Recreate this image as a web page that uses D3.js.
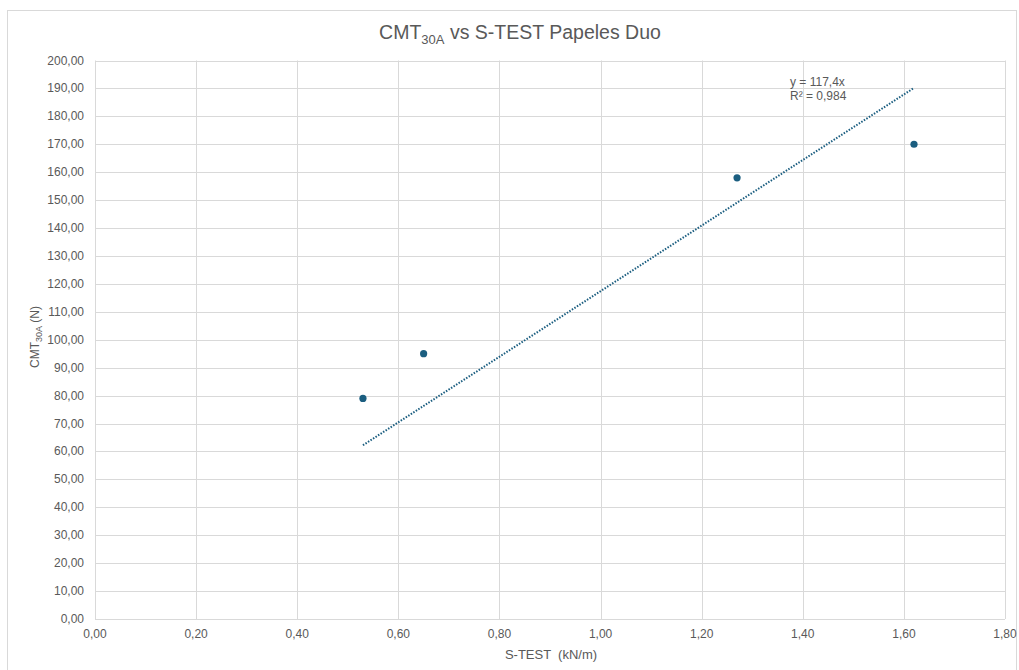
<!DOCTYPE html>
<html><head><meta charset="utf-8">
<script src="https://cdn.jsdelivr.net/npm/d3@7"></script>
<style>body{margin:0;background:#fff;}text{font-family:"Liberation Sans",Arial,sans-serif;}</style>
</head><body>
<svg id="c" width="1019" height="670"></svg>
<script>
const sTest = [0.53, 0.65, 1.27, 1.62];
const cmt = [79, 95, 158, 170];
const slope = 117.4;
const r2Label = "R² = 0,984";
const eqLabel = "y = 117,4x";
const xTicks = [0,0.2,0.4,0.6,0.8,1.0,1.2,1.4,1.6,1.8];
const yTicks = d3.range(0, 201, 10);

const svg = d3.select("#c");
const m = {l:95, r:1005, t:60.5, b:619};
const x = d3.scaleLinear().domain([0,1.8]).range([m.l, m.r]);
const y = d3.scaleLinear().domain([0,200]).range([m.b, m.t]);
const fmt = v => d3.format(".2f")(v).replace(".", ",");
const grid = "#d9d9d9", txt = "#595959", col = "#1b5e80";

svg.append("rect").attr("x",7.5).attr("y",10.5).attr("width",1009).attr("height",670).attr("fill","none").attr("stroke","#d9d9d9");

const g = svg.append("g");
g.selectAll(".gy").data(yTicks).join("line").attr("x1",m.l).attr("x2",m.r)
 .attr("y1",d=>Math.round(y(d))+0.5).attr("y2",d=>Math.round(y(d))+0.5).attr("stroke",grid).attr("stroke-width",1);
g.selectAll(".gx").data(xTicks).join("line").attr("y1",m.t).attr("y2",m.b)
 .attr("x1",d=>Math.round(x(d))+0.5).attr("x2",d=>Math.round(x(d))+0.5).attr("stroke",grid).attr("stroke-width",1);

svg.selectAll(".yl").data(yTicks).join("text").attr("x",84).attr("y",d=>y(d)+4)
 .attr("text-anchor","end").attr("font-size",12).attr("fill",txt).text(fmt);
svg.selectAll(".xl").data(xTicks).join("text").attr("x",d=>x(d)).attr("y",638)
 .attr("text-anchor","middle").attr("font-size",12).attr("fill",txt).text(fmt);

const x0 = d3.min(sTest), x1 = d3.max(sTest);
svg.append("line").attr("x1",x(x0)).attr("y1",y(slope*x0)).attr("x2",x(x1)).attr("y2",y(slope*x1))
 .attr("stroke",col).attr("stroke-width",2).attr("stroke-dasharray","1.5,1.5");

svg.selectAll(".pt").data(sTest).join("circle").attr("cx",d=>x(d)).attr("cy",(d,i)=>y(cmt[i]))
 .attr("r",3.6).attr("fill",col);

svg.append("text").attr("x",790).attr("y",86).attr("font-size",12).attr("fill",txt).text(eqLabel);
svg.append("text").attr("x",790).attr("y",100).attr("font-size",12).attr("fill",txt).text(r2Label);

const t = svg.append("text").attr("x",520).attr("y",39).attr("text-anchor","middle").attr("font-size",19.5).attr("fill",txt);
t.append("tspan").text("CMT");
t.append("tspan").attr("font-size",13).attr("dy",5).text("30A");
t.append("tspan").attr("dy",-5).text(" vs S-TEST Papeles Duo");

svg.append("text").attr("x",551).attr("y",659).attr("text-anchor","middle").attr("font-size",13).attr("fill",txt).attr("xml:space","preserve").text("S-TEST  (kN/m)");

const yt = svg.append("text").attr("transform","translate(39,337) rotate(-90)").attr("text-anchor","middle").attr("font-size",12).attr("fill",txt);
yt.append("tspan").text("CMT");
yt.append("tspan").attr("font-size",9).attr("dy",3).text("30A");
yt.append("tspan").attr("dy",-3).text(" (N)");
</script>
</body></html>
